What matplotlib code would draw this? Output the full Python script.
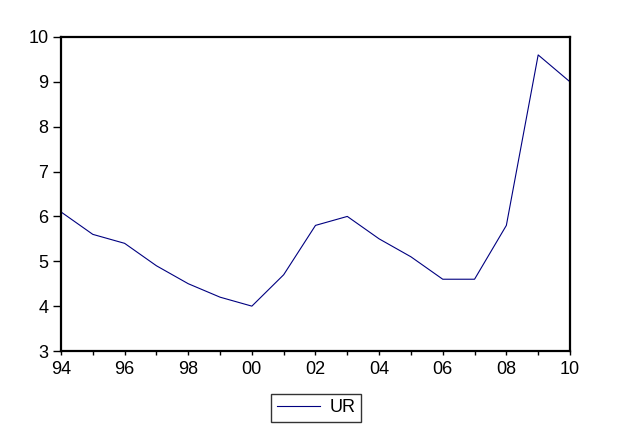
import matplotlib
matplotlib.use("Agg")
import matplotlib.pyplot as plt

plt.rcParams['font.family'] = ['Liberation Sans', 'DejaVu Sans']

years = list(range(1994, 2011))
ur = [6.1, 5.6, 5.4, 4.9, 4.5, 4.2, 4.0, 4.7, 5.8, 6.0, 5.5, 5.1, 4.6, 4.6, 5.8, 9.6, 9.0]
xtick_years = list(range(1994, 2011, 2))
xtick_labels = ["94", "96", "98", "00", "02", "04", "06", "08", "10"]

fig = plt.figure(figsize=(6.4, 4.32), dpi=100)
ax = fig.add_axes([0.0953, 0.1875, 0.7953, 0.7269])

line, = ax.plot(years, ur, color="#000080", linewidth=0.8, label="UR")

ax.set_xlim(1994, 2010)
ax.set_ylim(3, 10)
ax.set_xticks(xtick_years)
ax.set_xticklabels(xtick_labels)
ax.set_xticks(years, minor=True)
ax.set_yticks(range(3, 11))

for s in ax.spines.values():
    s.set_linewidth(1.6)
ax.tick_params(axis="both", which="both", direction="out", width=1, labelsize=13)
ax.tick_params(axis="y", length=6, pad=3)
ax.tick_params(axis="x", which="both", length=3, pad=4.5)

leg = fig.legend(handles=[line], loc="center", bbox_to_anchor=(316 / 640, 1 - 408 / 432),
                 frameon=True, fancybox=False, edgecolor="black", fontsize=13,
                 handlelength=2.4, handletextpad=0.5, borderpad=0.3)
leg.get_frame().set_linewidth(1.0)

fig.savefig("out.png", dpi=100)
